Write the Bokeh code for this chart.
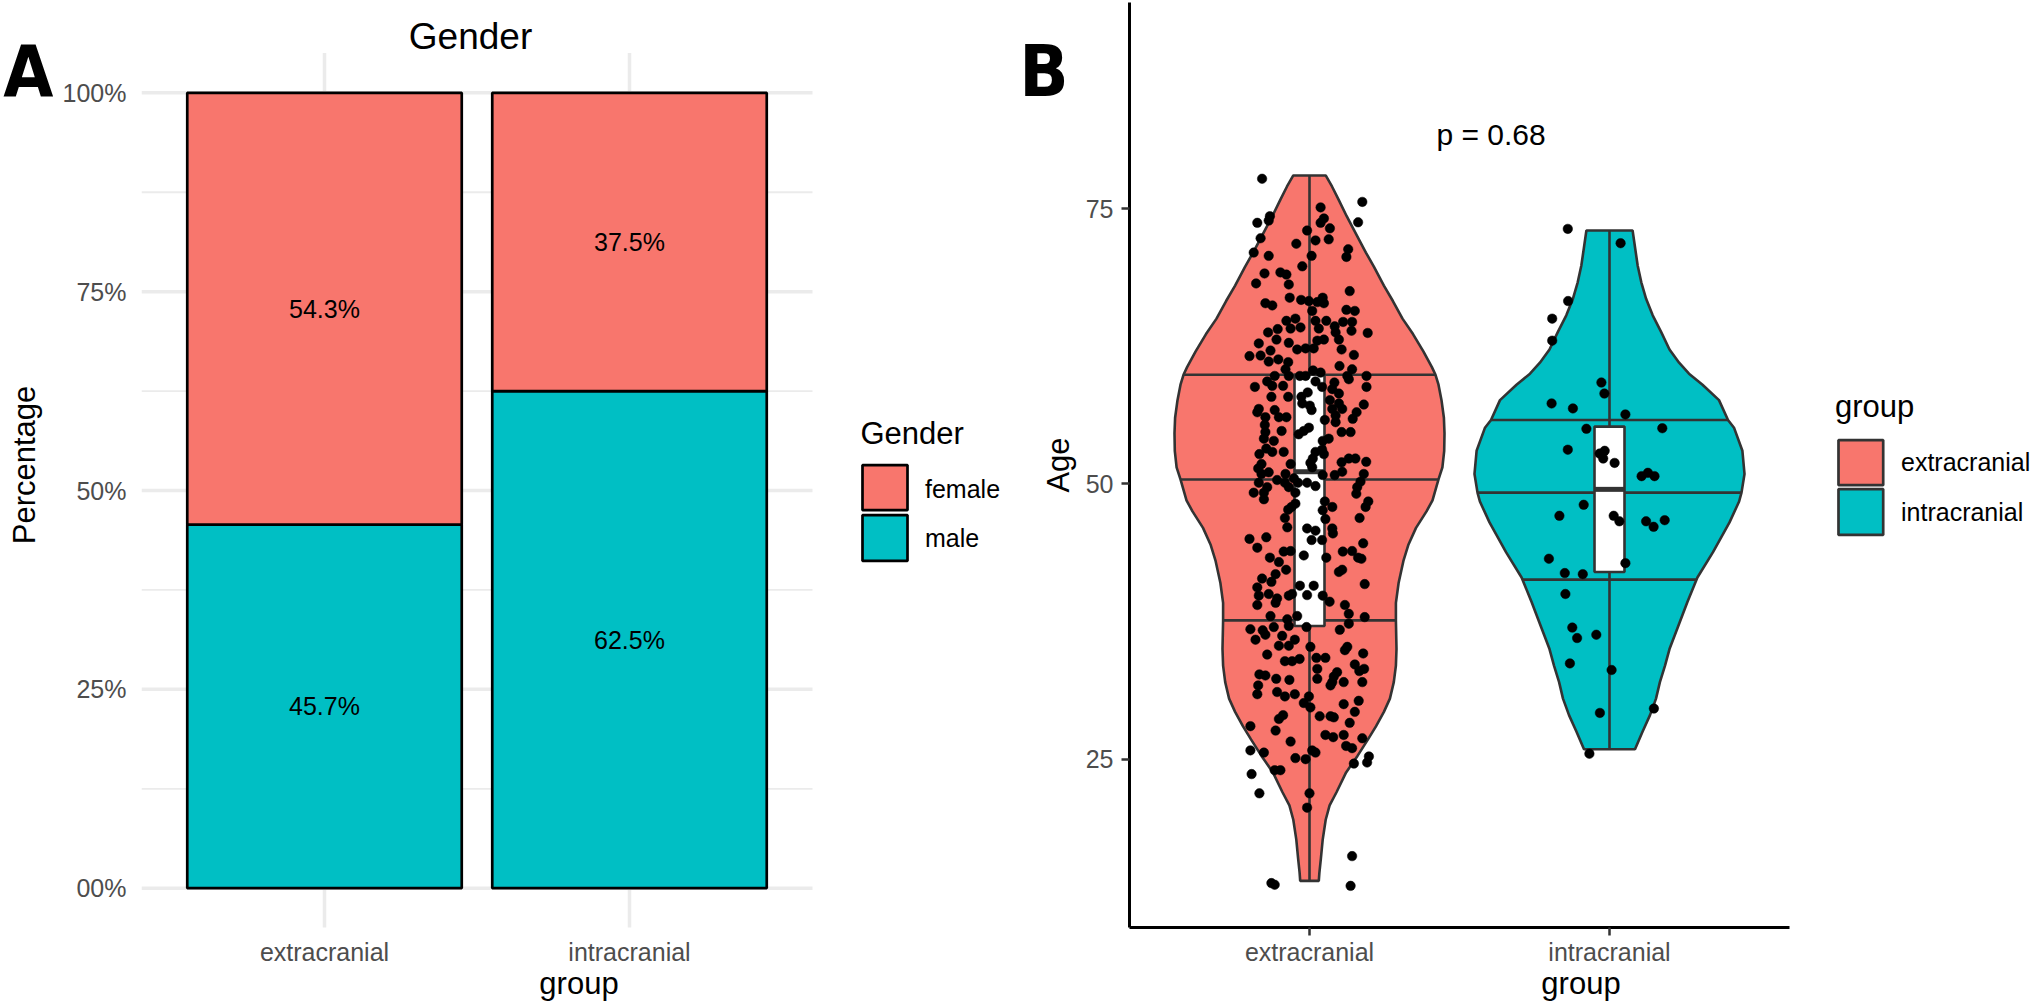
import numpy as np
from bokeh.plotting import figure
from bokeh.models import (ColumnDataSource, FixedTicker, Label, Range1d,
                          LinearAxis, CustomJSTickFormatter)
from bokeh.layouts import row
from bokeh.embed import file_html
from bokeh.resources import INLINE
from bokeh.core.properties import value

# ---------------- data ----------------
GROUPS = ["extracranial", "intracranial"]
GENDERS = ["female", "male"]
FEMALE_SHARE = [0.543, 0.375]
MALE_SHARE = [0.457, 0.625]
PCT_TICKS = [0, 0.25, 0.5, 0.75, 1]
PCT_TICK_LABELS = ["00%", "25%", "50%", "75%", "100%"]
PCT_MINOR = [0.125, 0.375, 0.625, 0.875]
AGE_TICKS = [25, 50, 75]
P_VALUE_TEXT = "p = 0.68"

# jittered points: (horizontal jitter in category units, age)
EXT_POINTS = [
    (-0.158, 77.7), (0.176, 75.6), (0.037, 75.1), (-0.132, 74.3), (0.048, 74.1), (-0.174, 73.7),
    (-0.136, 73.9), (0.037, 73.7), (0.162, 73.75), (0.068, 73.2), (-0.008, 73.0), (-0.163, 72.3),
    (0.02, 72.1), (0.064, 72.2), (-0.044, 71.8), (0.129, 71.3), (-0.186, 71.0), (0.123, 70.6),
    (0.007, 70.7), (-0.136, 70.7), (-0.024, 69.75), (-0.15, 69.1), (-0.097, 69.2), (-0.077, 69.0),
    (-0.178, 68.2), (-0.069, 68.1), (0.134, 67.5), (-0.066, 66.9), (-0.147, 66.4), (-0.124, 66.2),
    (-0.028, 66.7), (-0.002, 66.6), (0.026, 66.5), (0.044, 66.9), (0.048, 66.4), (0.009, 65.7),
    (0.123, 65.8), (0.151, 65.7), (-0.077, 64.8), (-0.047, 65.0), (0.02, 64.8), (0.056, 64.8),
    (0.112, 64.7), (0.142, 64.7), (-0.063, 64.1), (-0.03, 64.2), (0.031, 64.1), (0.084, 64.3),
    (-0.106, 64.05), (-0.138, 63.75), (0.087, 63.75), (0.14, 63.9), (0.194, 63.7), (-0.11, 63.1),
    (0.026, 63.0), (0.048, 63.1), (0.098, 63.1), (-0.169, 62.75), (-0.069, 62.8),
    (-0.13, 62.1), (-0.041, 62.2), (-0.013, 62.3), (0.014, 62.3), (0.107, 62.2), (-0.2, 61.6),
    (-0.163, 61.65), (-0.104, 61.3), (-0.136, 61.1), (-0.071, 61.05), (0.148, 61.7), (0.1, 60.7),
    (0.142, 60.4), (-0.08, 60.4), (0.012, 60.3), (0.037, 60.1), (0.126, 59.8), (-0.069, 59.8),
    (-0.032, 59.8), (-0.013, 59.8), (-0.116, 59.8), (0.19, 59.8), (0.131, 59.5), (0.02, 59.3),
    (-0.141, 59.3), (-0.124, 58.9), (-0.088, 58.9), (-0.182, 58.8), (0.083, 59.2), (0.076, 58.6),
    (0.042, 58.8), (0.19, 58.8), (-0.006, 58.3), (0.098, 58.2), (-0.127, 57.9), (-0.071, 57.9),
    (-0.027, 57.9), (-0.024, 57.3), (0.068, 57.6), (0.098, 57.3), (0.001, 57.1), (0.181, 57.2),
    (0.076, 56.8), (0.109, 56.8), (-0.169, 56.8), (-0.116, 56.7), (0.007, 56.7), (-0.174, 56.5),
    (0.157, 56.5), (0.087, 56.2), (-0.102, 56.05), (-0.077, 56.05), (-0.147, 56.05), (0.144, 55.9),
    (0.051, 55.8), (0.087, 55.6), (-0.149, 55.35), (-0.002, 55.1), (-0.093, 54.8), (-0.147, 54.7),
    (-0.019, 54.8), (-0.036, 54.5), (0.107, 54.7), (0.137, 54.7), (0.044, 53.9), (-0.152, 54.1),
    (-0.119, 53.9), (0.064, 54.1), (-0.144, 53.2), (-0.124, 52.9), (0.042, 53.1), (-0.086, 52.9),
    (-0.167, 52.7), (0.02, 52.9), (0.048, 52.7), (0.131, 52.3), (0.153, 52.3), (0.011, 52.3),
    (0.003, 51.9), (0.107, 51.95), (0.189, 52.0), (-0.16, 51.8), (-0.063, 51.8), (0.009, 51.5),
    (-0.171, 51.4), (-0.136, 51.05), (-0.16, 50.9), (-0.08, 50.9), (0.109, 51.1), (0.084, 50.8),
    (0.044, 50.8), (0.181, 50.9), (-0.052, 50.5), (-0.108, 50.35), (-0.169, 50.1), (-0.082, 50.1),
    (-0.038, 50.1), (-0.008, 50.1), (0.17, 50.2), (0.02, 49.8), (-0.069, 49.7), (-0.141, 49.7),
    (0.159, 49.7), (-0.186, 49.2), (-0.152, 49.2), (-0.047, 49.2), (0.156, 49.1), (-0.152, 48.6),
    (0.196, 48.4), (-0.047, 48.2), (0.051, 48.4), (-0.06, 47.9), (0.076, 47.9), (0.187, 47.9),
    (-0.071, 47.65), (0.044, 47.6), (-0.082, 46.9), (0.167, 46.9), (0.053, 46.8),
    (-0.074, 46.05), (-0.008, 45.95), (0.076, 45.95), (0.02, 45.75), (0.078, 45.5), (-0.2, 45.0),
    (-0.144, 45.15), (0.007, 44.9), (0.042, 44.9), (-0.174, 44.2), (0.179, 44.6), (-0.086, 43.85),
    (-0.063, 43.9), (0.111, 43.85), (0.142, 43.9), (-0.019, 43.5), (0.056, 43.3), (0.162, 43.3),
    (0.173, 43.2), (-0.132, 43.3), (-0.102, 42.9), (-0.078, 42.2), (0.109, 42.2), (0.098, 42.0),
    (-0.113, 41.8), (-0.158, 41.4), (-0.127, 41.1), (0.184, 40.9), (-0.174, 40.6), (-0.032, 40.75),
    (0.014, 40.75), (-0.136, 40.0), (-0.008, 39.9), (-0.069, 39.85), (-0.058, 40.0), (0.044, 39.85),
    (-0.169, 39.85), (-0.108, 39.6), (-0.113, 39.2), (0.067, 39.3), (-0.174, 39.0), (0.118, 39.0),
    (0.131, 38.2), (0.184, 37.9), (-0.13, 38.0), (-0.041, 38.0), (-0.074, 37.7), (0.131, 37.3),
    (-0.01, 37.0), (-0.119, 37.0), (-0.069, 37.1), (-0.197, 36.8), (-0.156, 36.7), (0.101, 36.75),
    (-0.147, 36.3), (-0.091, 36.2), (-0.18, 35.85), (-0.049, 35.85), (-0.102, 35.3), (-0.069, 35.3),
    (0.003, 35.2), (0.126, 35.2), (0.118, 34.9), (-0.141, 34.5), (0.179, 34.6), (0.023, 34.2),
    (0.053, 34.2), (-0.082, 33.9), (-0.058, 33.9), (-0.033, 34.1), (0.151, 33.6), (0.026, 33.2),
    (0.182, 33.2), (0.166, 33.0), (-0.167, 32.7), (-0.147, 32.6), (0.092, 32.9), (0.081, 32.5),
    (0.026, 32.3), (-0.111, 32.3), (-0.067, 32.2), (0.114, 32.0), (0.176, 32.0), (-0.171, 31.7),
    (0.07, 31.7), (0.076, 32.0), (-0.174, 30.9), (-0.108, 31.1), (-0.082, 30.7), (-0.049, 30.9),
    (-0.002, 30.7), (0.164, 30.3), (-0.019, 30.1), (0.114, 30.0),
    (0.003, 29.7), (0.151, 29.3), (-0.102, 28.65), (-0.088, 29.0), (0.034, 28.9), (0.070, 28.9),
    (0.081, 28.8), (0.134, 28.3), (-0.197, 28.0), (-0.113, 27.6), (0.053, 27.2), (0.079, 27.0),
    (0.114, 27.2), (0.176, 26.9), (-0.063, 26.6), (0.122, 26.2), (0.142, 26.0), (-0.197, 25.8),
    (-0.152, 25.6), (0.009, 25.8), (0.02, 25.6), (-0.047, 25.1), (-0.013, 25.0), (0.198, 25.25),
    (0.192, 24.7), (0.148, 24.6), (-0.116, 24.0), (-0.097, 24.0), (-0.193, 23.65), (-0.167, 21.9),
    (0.0, 21.9), (-0.008, 20.6), (0.142, 16.2), (-0.127, 13.75), (-0.116, 13.6), (0.137, 13.5),
]
INT_POINTS = [
    (-0.139, 73.15), (0.037, 71.85), (-0.138, 66.6), (-0.191, 65.0), (-0.191, 63.0), (-0.027, 59.2),
    (-0.017, 58.2), (-0.193, 57.3), (-0.122, 56.85), (0.053, 56.3), (-0.077, 55.0), (0.176, 55.05),
    (-0.139, 53.1), (-0.033, 52.75), (-0.016, 53.0), (-0.021, 52.3), (0.017, 51.9), (0.107, 50.7),
    (0.128, 51.0), (0.15, 50.7), (-0.086, 48.1), (-0.167, 47.1), (0.014, 47.1), (0.033, 46.6),
    (0.122, 46.6), (0.147, 46.1), (0.184, 46.7), (-0.202, 43.2), (0.053, 42.8), (-0.149, 41.9),
    (-0.089, 41.8), (-0.147, 40.0), (-0.124, 36.95), (-0.108, 36.0), (-0.044, 36.3), (-0.132, 33.7),
    (0.007, 33.1), (-0.032, 29.2), (0.148, 29.6), (-0.067, 25.5),
]

# violin outlines: age -> half width (category units)
EXT_VIOLIN_AGE = [13.95, 14.7, 16.0, 17.7, 19.5, 20.8, 22.0, 23.8, 25.3, 26.8, 28.0, 29.3, 30.5,
                  32.0, 33.5, 35.0, 37.6, 39.2, 41.0, 43.0, 44.5, 46.0, 47.5, 48.5, 50.4, 51.5,
                  53.0, 54.6, 56.0, 57.6, 59.0, 59.9, 60.6, 62.0, 63.6, 65.0, 66.6, 68.0, 69.7,
                  71.0, 72.7, 74.3, 75.8, 77.0, 78.0]
EXT_VIOLIN_HALF = [0.031, 0.033, 0.038, 0.044, 0.054, 0.067, 0.09, 0.122, 0.16, 0.195, 0.222,
                   0.248, 0.268, 0.281, 0.288, 0.29, 0.288, 0.288, 0.297, 0.313, 0.33, 0.355,
                   0.39, 0.41, 0.43, 0.443, 0.449, 0.45, 0.448, 0.44, 0.43, 0.42, 0.408, 0.38,
                   0.345, 0.31, 0.278, 0.248, 0.215, 0.188, 0.155, 0.124, 0.097, 0.075, 0.054]
INT_VIOLIN_AGE = [25.9, 27.5, 29.0, 30.5, 32.0, 33.5, 35.0, 37.0, 39.3, 41.5, 43.8, 46.5, 48.4,
                  49.2, 50.9, 53.0, 55.1, 55.8, 57.6, 59.0, 60.0, 61.0, 62.2, 63.8, 65.3, 66.8,
                  68.3, 69.8, 71.3, 73.0]
INT_VIOLIN_HALF = [0.085, 0.11, 0.135, 0.155, 0.168, 0.185, 0.2, 0.228, 0.26, 0.293, 0.345, 0.4,
                   0.432, 0.44, 0.45, 0.443, 0.415, 0.395, 0.365, 0.31, 0.265, 0.232, 0.2, 0.172,
                   0.144, 0.122, 0.106, 0.094, 0.086, 0.077]
EXT_QUANTILES = [37.6, 50.4, 59.9]
INT_QUANTILES = [41.3, 49.2, 55.8]
EXT_BOX = [37.1, 51.1, 59.9]   # q1, median, q3
INT_BOX = [42.0, 49.5, 55.2]

# ---------------- style / layout ----------------
SALMON = "#F8766D"
CYAN = "#00BFC4"
GREY20 = "#333333"
GREY30 = "#4D4D4D"
GRID = "#EBEBEB"
FONT = "Liberation Sans"
TAG_FONT = "'Liberation Sans Narrow', 'DejaVu Sans Condensed', 'Liberation Sans'"

W, H = 1016, 1004
TOP, BOTTOM = 2, 77                 # shared by both panels (frames are aligned in a row)
A_L, B_L = 141, 113
FRAME_BOTTOM = H - BOTTOM           # 927
POS = {g: i + 1 for i, g in enumerate(GROUPS)}   # category positions on the x scale
X_LO, X_HI = 0.4, 2.6                            # ggplot discrete expansion

A_PXU = 305.0                       # px per category unit, panel A
B_PXU = 300.0                       # px per category unit, panel B
A_X1 = X_LO + (W - A_L) / A_PXU
B_X1 = X_LO + (W - B_L) / B_PXU

A_PX1, A_PX0 = 92.3, 887.7          # panel A: 100% / 0% rows
A_UNIT = A_PX0 - A_PX1
A_Y0 = -(FRAME_BOTTOM - A_PX0) / A_UNIT
A_Y1 = 1 + (A_PX1 - TOP) / A_UNIT
B_UNIT = (758.7 - 208.0) / 50.0     # panel B: age 75 at 208 px, 25 at 758.7 px
B_Y0 = 25 - (FRAME_BOTTOM - 758.7) / B_UNIT
B_Y1 = 75 + (208.0 - TOP) / B_UNIT


def a_x(px):
    return X_LO + (px - A_L) / A_PXU


def a_y(py):
    return 1 + (A_PX1 - py) / A_UNIT


def b_x(px):                        # px measured on the whole page
    return X_LO + (px - W - B_L) / B_PXU


def b_y(py):
    return 75 + (208.0 - py) / B_UNIT


def style_axis(ax):
    ax.major_label_text_font = FONT
    ax.major_label_text_font_size = "25px"
    ax.major_label_text_color = GREY30
    ax.axis_label_text_font = FONT
    ax.axis_label_text_font_size = "31px"
    ax.axis_label_text_font_style = "normal"
    ax.axis_label_text_color = "black"
    ax.minor_tick_line_color = None


def tag_axis(tag, y, standoff, label, label_standoff):
    ax = LinearAxis(ticker=FixedTicker(ticks=[y], minor_ticks=[]),
                    formatter=CustomJSTickFormatter(args=dict(tag=tag), code="return tag"))
    ax.axis_line_color = None
    ax.major_tick_line_color = None
    ax.minor_tick_line_color = None
    ax.major_tick_out = 0
    ax.major_tick_in = 0
    ax.major_label_standoff = standoff
    ax.major_label_text_font = TAG_FONT
    ax.major_label_text_font_size = "72px"
    ax.major_label_text_font_style = "bold"
    ax.major_label_text_color = "black"
    ax.axis_label = label
    ax.axis_label_standoff = label_standoff
    ax.axis_label_text_font = FONT
    ax.axis_label_text_font_size = "31px"
    ax.axis_label_text_font_style = "normal"
    ax.axis_label_text_color = "black"
    return ax


def category_axis(ax):
    ax.ticker = FixedTicker(ticks=[POS[g] for g in GROUPS], minor_ticks=[])
    ax.major_label_overrides = {POS[g]: g for g in GROUPS}


def draw_legend(p, fx, fy, title, title_xy, labels, fills, edge, box_x, box_y, label_x, label_y):
    p.text(x=[fx(title_xy[0])], y=[fy(title_xy[1])], text=[title], text_align="left",
           text_baseline="middle", text_font=value(FONT), text_font_size=value("31px"),
           text_color="black")
    p.quad(left=[fx(box_x[0])] * len(labels), right=[fx(box_x[1])] * len(labels),
           top=[fy(t) for t, b in box_y], bottom=[fy(b) for t, b in box_y],
           fill_color=fills, line_color=edge, line_width=2.7)
    p.text(x=[fx(label_x)] * len(labels), y=[fy(v) for v in label_y], text=labels,
           text_align="left", text_baseline="middle", text_font=value(FONT),
           text_font_size=value("25px"), text_color="black")


# ---------------- panel A ----------------
pA = figure(width=W, height=H, output_backend="svg", toolbar_location=None,
            x_range=Range1d(X_LO, A_X1), y_range=Range1d(A_Y0, A_Y1),
            min_border_left=A_L, min_border_right=0, min_border_top=TOP, min_border_bottom=BOTTOM)
pA.outline_line_color = None
pA.grid.visible = False

# grid lines (theme_minimal), limited to the panel area
pA.segment(x0=[X_LO] * len(PCT_MINOR), y0=PCT_MINOR, x1=[X_HI] * len(PCT_MINOR), y1=PCT_MINOR,
           line_color=GRID, line_width=1.8)
pA.segment(x0=[X_LO] * len(PCT_TICKS), y0=PCT_TICKS, x1=[X_HI] * len(PCT_TICKS), y1=PCT_TICKS,
           line_color=GRID, line_width=3.5)
pA.segment(x0=[POS[g] for g in GROUPS], y0=[-0.05] * 2, x1=[POS[g] for g in GROUPS], y1=[1.05] * 2,
           line_color=GRID, line_width=3.5)

srcA = ColumnDataSource(dict(x=[POS[g] for g in GROUPS], male=MALE_SHARE, female=FEMALE_SHARE))
bars = pA.vbar_stack(["male", "female"], x="x", width=0.9, source=srcA,
                     fill_color=[CYAN, SALMON], line_color="black", line_width=2.7)

lab_x, lab_y, lab_t = [], [], []
for g, m, f in zip(GROUPS, MALE_SHARE, FEMALE_SHARE):
    lab_x += [POS[g], POS[g]]
    lab_y += [m / 2, m + f / 2]
    lab_t += [f"{m * 100:.1f}%", f"{f * 100:.1f}%"]
pA.text(x=lab_x, y=lab_y, text=lab_t, text_align="center", text_baseline="middle",
        text_font=value(FONT), text_font_size=value("25px"), text_color="black")

pA.yaxis.ticker = FixedTicker(ticks=PCT_TICKS, minor_ticks=[])
pA.yaxis.major_label_overrides = {t: l for t, l in zip(PCT_TICKS, PCT_TICK_LABELS)}
category_axis(pA.xaxis[0])
for ax in (pA.xaxis[0], pA.yaxis[0]):
    style_axis(ax)
    ax.axis_line_color = None
    ax.major_tick_line_color = None
    ax.major_tick_out = 0
    ax.major_tick_in = 0
pA.yaxis.major_label_standoff = 15
pA.xaxis.major_label_standoff = 10
pA.xaxis.axis_label = "group"
pA.xaxis.axis_label_standoff = -3

pA.add_layout(tag_axis("A", a_y(70), 6, "Percentage", -42), "left")

draw_legend(pA, a_x, a_y, "Gender", (860, 433), GENDERS, [SALMON, CYAN], "black",
            (862, 907), [(464.6, 509.7), (514.6, 560.4)], 924.5, [488, 537])

pA.add_layout(Label(x=a_x(470), y=a_y(36), text="Gender", text_align="center",
                    text_baseline="middle", text_font=FONT, text_font_size="37px",
                    text_color="black"))

# ---------------- panel B ----------------
pB = figure(width=W, height=H, output_backend="svg", toolbar_location=None,
            x_range=Range1d(X_LO, B_X1), y_range=Range1d(B_Y0, B_Y1),
            min_border_left=B_L, min_border_right=0, min_border_top=TOP, min_border_bottom=BOTTOM)
pB.outline_line_color = None
pB.grid.visible = False

for g, ages, halves, fill, quants, box, pts in (
        (GROUPS[0], EXT_VIOLIN_AGE, EXT_VIOLIN_HALF, SALMON, EXT_QUANTILES, EXT_BOX, EXT_POINTS),
        (GROUPS[1], INT_VIOLIN_AGE, INT_VIOLIN_HALF, CYAN, INT_QUANTILES, INT_BOX, INT_POINTS)):
    c = POS[g]
    vx = [c - h for h in halves] + [c + h for h in halves[::-1]]
    vy = list(ages) + list(ages[::-1])
    pB.patch(x=vx, y=vy, fill_color=fill, line_color=GREY20, line_width=2.6)
    qh = np.interp(quants, ages, halves)
    pB.segment(x0=c - qh, y0=quants, x1=c + qh, y1=quants, line_color=GREY20, line_width=2.6)
    pB.segment(x0=[c], y0=[ages[0]], x1=[c], y1=[ages[-1]], line_color=GREY20, line_width=2.6)
    pB.vbar(x=[c], width=0.1, bottom=[box[0]], top=[box[2]], fill_color="white",
            line_color=GREY20, line_width=2.6)
    pB.segment(x0=[c - 0.05], y0=[box[1]], x1=[c + 0.05], y1=[box[1]],
               line_color=GREY20, line_width=5)
    pB.scatter(x=[c + j for j, a in pts], y=[a for j, a in pts], size=9.5,
               fill_color="black", line_color="black", line_width=0.5)

pB.text(x=[POS[GROUPS[0]] + 0.423], y=[b_y(134.4)], text=[P_VALUE_TEXT], text_align="left",
        text_baseline="middle", text_font=value(FONT), text_font_size=value("30px"),
        text_color="black")

pB.yaxis.ticker = FixedTicker(ticks=AGE_TICKS, minor_ticks=[])
category_axis(pB.xaxis[0])
pB.xaxis.bounds = (X_LO, X_HI)
for ax in (pB.xaxis[0], pB.yaxis[0]):
    style_axis(ax)
    ax.axis_line_color = "black"
    ax.axis_line_width = 3
    ax.major_tick_line_color = GREY20
    ax.major_tick_line_width = 2.5
    ax.major_tick_out = 8
    ax.major_tick_in = 0
pB.yaxis.major_label_standoff = 8
pB.xaxis.major_label_standoff = 2
pB.xaxis.axis_label = "group"
pB.xaxis.axis_label_standoff = -3

pB.add_layout(tag_axis("B", b_y(70), 14, "Age", -60), "left")

draw_legend(pB, b_x, b_y, "group", (1834.5, 406), GROUPS, [SALMON, CYAN], GREY20,
            (1838, 1882.7), [(439.6, 484.7), (488.6, 534.4)], 1900.5, [461.7, 511.7])

layout = row(pA, pB)
open("out.html", "w").write(file_html(layout, INLINE))
